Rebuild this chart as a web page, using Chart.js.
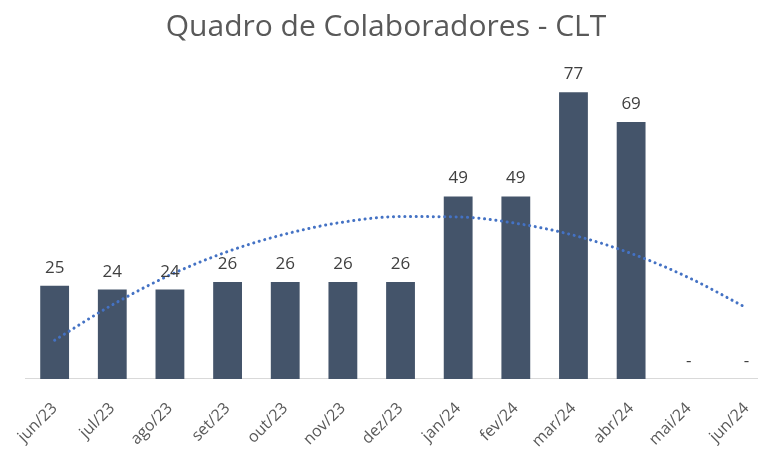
<!DOCTYPE html>
<html><head><meta charset="utf-8">
<script src="https://cdn.jsdelivr.net/npm/chart.js@4.4.1/dist/chart.umd.min.js"></script>
<style>
html,body{margin:0;padding:0;overflow:hidden;background:#fff;}
#wrap{width:780px;height:472px;position:relative;}
</style></head>
<body>
<div id="wrap"><canvas id="c"></canvas></div>
<script>
const categories = ["jun/23","jul/23","ago/23","set/23","out/23","nov/23","dez/23","jan/24","fev/24","mar/24","abr/24","mai/24","jun/24"];
const headcount = [25,24,24,26,26,26,26,49,49,77,69,0,0];
const trendValues = [10.4,19.9,27.9,34.2,38.9,42.1,43.6,43.5,41.8,38.6,33.7,27.2,19.1];
const chartTitle = "Quadro de Colaboradores - CLT";

const FONT = "'Open Sans', sans-serif";

const labelPlugin = {
  id: 'barLabels',
  afterDatasetsDraw(chart) {
    const ctx = chart.ctx;
    const meta = chart.getDatasetMeta(0);
    ctx.save();
    ctx.font = "17px " + FONT;
    ctx.fillStyle = "#404040";
    ctx.textAlign = "center";
    ctx.textBaseline = "alphabetic";
    meta.data.forEach((bar, i) => {
      const v = headcount[i];
      const txt = v === 0 ? "-" : String(v);
      ctx.fillText(txt, bar.x, bar.y - 13);
    });
    ctx.restore();
  }
};

const titlePlugin = {
  id: 'offsetTitle',
  afterDraw(chart) {
    const ctx = chart.ctx;
    ctx.save();
    ctx.font = "30px " + FONT;
    ctx.fillStyle = "#595959";
    ctx.textAlign = "center";
    ctx.textBaseline = "middle";
    ctx.fillText(chartTitle, 386, 27);
    ctx.restore();
  }
};

new Chart(document.getElementById('c'), {
  data: {
    labels: categories,
    datasets: [
      {
        type: 'bar',
        data: headcount,
        backgroundColor: '#44546A',
        categoryPercentage: 1,
        barPercentage: 0.5,
        order: 2
      },
      {
        type: 'line',
        data: trendValues,
        borderColor: '#4472C4',
        borderWidth: 3,
        borderDash: [0.1, 5.6],
        borderCapStyle: 'round',
        pointRadius: 0,
        tension: 0.4,
        cubicInterpolationMode: 'monotone',
        fill: false,
        order: 1
      }
    ]
  },
  options: {
    responsive: true,
    maintainAspectRatio: false,
    animation: false,
    layout: { padding: { left: 24, right: 2, top: 81, bottom: 1 } },
    plugins: {
      legend: { display: false },
      tooltip: { enabled: false },
      title: { display: false }
    },
    scales: {
      x: {
        offset: true,
        grid: { display: false, drawTicks: false },
        border: { display: true, color: '#D9D9D9', width: 1 },
        ticks: {
          color: '#595959',
          font: { family: FONT, size: 16 },
          maxRotation: 45,
          minRotation: 45,
          autoSkip: false,
          padding: 20
        }
      },
      y: {
        display: false,
        min: 0,
        max: 80
      }
    }
  },
  plugins: [labelPlugin, titlePlugin]
});
</script>
</body></html>
